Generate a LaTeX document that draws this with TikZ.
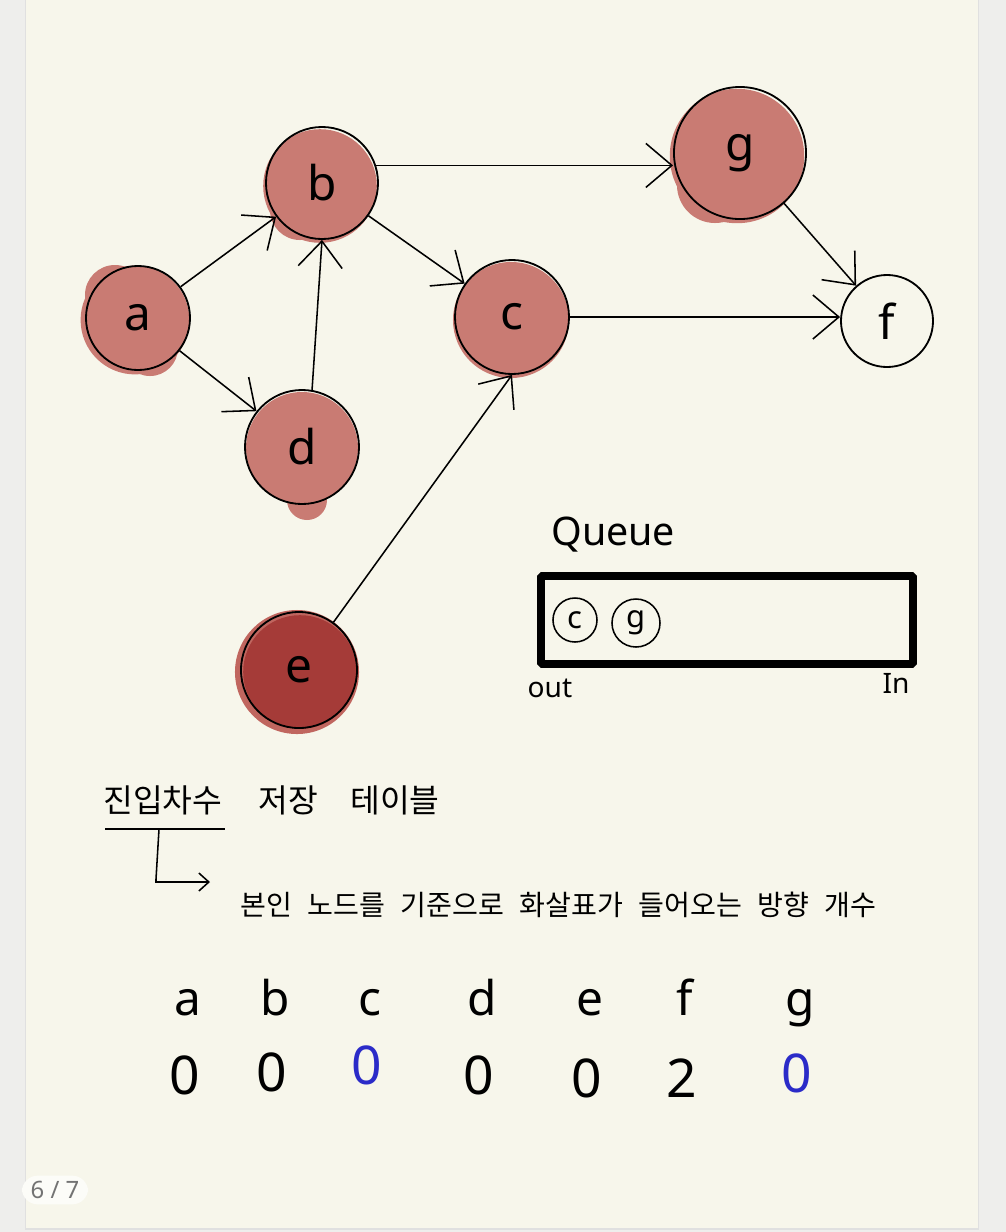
\documentclass[tikz,border=0pt]{standalone}
\usepackage{fontspec}
\setmainfont{Noto Sans}
\newfontfamily\kofont{Noto Sans CJK KR}
\usetikzlibrary{arrows.meta, positioning}

\definecolor{paper}{HTML}{F7F6EB}
\definecolor{margin}{HTML}{EEEEEC}
\definecolor{blobred}{HTML}{C97B73}
\definecolor{blobdark}{HTML}{A53B38}
\definecolor{blobhalo}{HTML}{C0665F}
\definecolor{penblue}{HTML}{2B2BC8}
\newcommand{\wordgap}{\spaceskip=0.55em\relax}

\begin{document}
\begin{tikzpicture}[
	x=0.025cm, y=-0.025cm,
	vertex/.style={circle, draw, line width=1.3pt, inner sep=0pt,
		font=\fontsize{34}{36}\selectfont},
	edge/.style={-{Straight Barb[length=6.5mm, width=11mm]}, line width=1.1pt},
	queuebox/.style={rectangle, draw, line width=5.6pt, rounded corners=1pt},
	qitem/.style={circle, draw, line width=1.1pt, inner sep=0pt,
		minimum size=1.1cm, font=\fontsize{22}{24}\selectfont},
	note/.style={inner sep=0pt, font=\fontsize{20}{22}\selectfont},
	kohead/.style={inner sep=0pt, font=\kofont\fontsize{23}{26}\selectfont},
	kotext/.style={inner sep=0pt, font=\kofont\fontsize{20}{22}\selectfont\wordgap},
	tabletter/.style={inner sep=0pt, anchor=base, font=\fontsize{34}{36}\selectfont},
	tabcount/.style={inner sep=0pt, font=\fontsize{38}{40}\selectfont}
	]
	% page
	\fill[margin] (0,0) rectangle (1006,1232);
	\fill[black!12] (25,0) rectangle (979,1230);
	\fill[paper] (26,0) rectangle (978,1228);

	% coloured blobs behind the vertices
	\fill[blobred] (135,320) circle[radius=1.36cm];
	\fill[blobred] (115,295) circle[radius=0.75cm];
	\fill[blobred] (150,348) circle[radius=0.7cm];
	\fill[blobred] (320,186) circle[radius=1.42cm];
	\fill[blobred] (300,210) circle[radius=0.75cm];
	\fill[blobred] (302,448) circle[radius=1.4cm];
	\fill[blobred] (307,500) circle[radius=0.5cm];
	\fill[blobred] (511,320) circle[radius=1.45cm];
	\fill[blobhalo] (297,672) circle[radius=1.55cm];
	\fill[blobdark] (300,672) circle[radius=1.42cm];
	\fill[blobred] (737,156) circle[radius=1.68cm];
	\fill[blobred] (715,185) circle[radius=0.95cm];

	% graph
	\node[vertex, minimum size=2.6cm] (a) at (138,318) {a};
	\node[vertex, minimum size=2.8cm] (b) at (322,183) {b};
	\node[vertex, minimum size=2.85cm] (d) at (302,447) {d};
	\node[vertex, minimum size=2.85cm] (c) at (512,317) {c};
	\node[vertex, minimum size=2.9cm] (e) at (299,670) {e};
	\node[vertex, minimum size=3.3cm] (g) at (740,153) {g};
	\node[vertex, minimum size=2.3cm] (f) at (887,321) {f};

	\draw[edge] (a) -- (b);
	\draw[edge] (a) -- (d);
	\draw[edge] (d.80) -- (b.south);
	\draw[edge] (b) -- (c);
	\draw[edge] (b.18) -- (b.18 -| g.west);
	\draw[edge] (e) -- (c.south);
	\draw[edge] (c) -- (c -| f.west);
	\draw[edge] (g) -- (f);

	% queue
	\node[queuebox, minimum width=9.3cm, minimum height=2.2cm] (queue) at (727,620) {};
	\node[inner sep=0pt, anchor=south west, font=\fontsize{28}{30}\selectfont]
		(qlabel) at ([xshift=0.35cm, yshift=0.5cm]queue.north west) {Queue};
	\node[qitem] (qc) at (575,620) {c};
	\node[qitem, minimum size=1.2cm] (qg) at (636,623) {g};
	\node[note] (qout) at (550,688) {out};
	\node[note] (qin) at (896,683) {In};

	% in-degree table
	\node[kohead, anchor=west] (indeg) at (103,800) {진입차수};
	\node[kohead, right=0.9cm of indeg] (store) {저장\hspace{0.8cm}테이블};
	\draw[line width=1.1pt] ([xshift=0.05cm, yshift=-0.35cm]indeg.south west)
		coordinate (ul) -- ++(120,0);
	\node[kotext, anchor=west] (desc) at (240,905)
		{본인 노드를 기준으로 화살표가 들어오는 방향 개수};
	\coordinate (bend) at (210,882);
	\draw[-{Straight Barb[length=2.5mm, width=4.5mm]}, line width=1.1pt]
		([xshift=1.35cm]ul) -- ++(-3,50) |- (bend);

	\foreach \v/\x/\cnt/\col/\y in {a/188/0/black/1075, b/275/0/black/1072,
		c/370/0/penblue/1065, d/482/0/black/1075, e/590/0/black/1078,
		f/685/2/black/1078, g/800/0/penblue/1073}{
		\node[tabletter] (l\v) at (\x,1015) {\v};
		\node[tabcount, text=\col] (n\v) at (\x-3,\y) {\cnt};
	}

	% page number
	\node[fill=white!65!paper, rounded corners=0.4cm, inner xsep=0.22cm, inner ysep=0.14cm,
		text=black!55, font=\fontsize{17}{19}\selectfont] (pageno) at (55,1190) {6 / 7};
\end{tikzpicture}
\end{document}
